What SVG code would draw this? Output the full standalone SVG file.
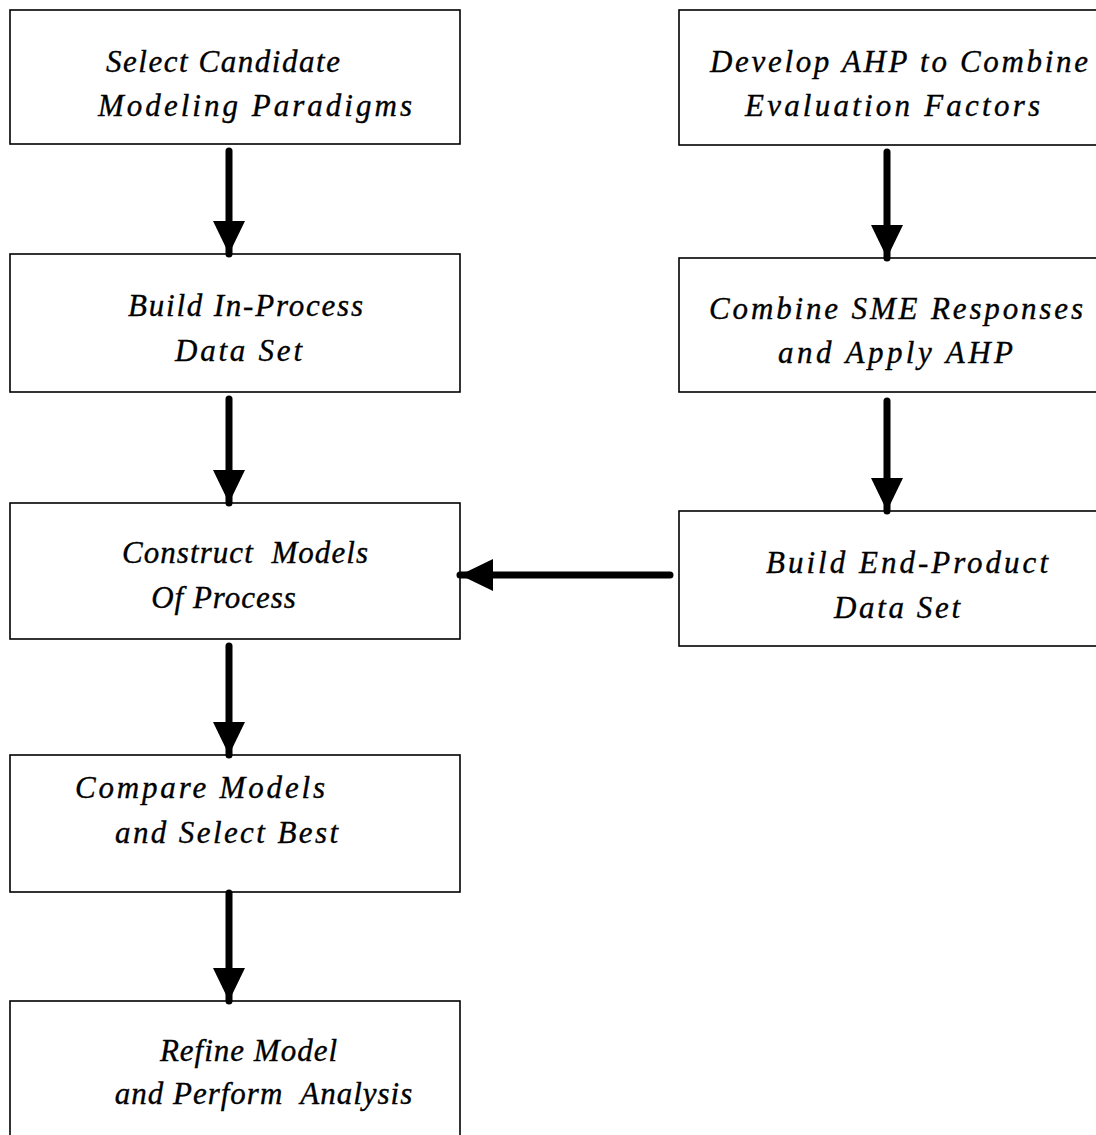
<svg xmlns="http://www.w3.org/2000/svg" width="1096" height="1135" viewBox="0 0 1096 1135">
  <style>
    .box { fill: #ffffff; stroke: #000000; stroke-width: 1.6; }
    .lbl { font-family: "Liberation Serif", "Times New Roman", serif; font-style: italic; font-size: 31px; fill: #000000; stroke: #000000; stroke-width: 0.35; white-space: pre; }
    .mid { text-anchor: middle; letter-spacing: 1px; }
    .conn { stroke: #000000; stroke-width: 7; stroke-linecap: round; fill: none; }
  </style>
  <defs>
    <marker id="head" markerUnits="userSpaceOnUse" markerWidth="34" markerHeight="34" refX="33" refY="16" orient="auto">
      <path d="M0,0 L33,16 L0,32 Z" fill="#000000"/>
    </marker>
  </defs>
  <rect width="1096" height="1135" fill="#ffffff"/>

  <!-- process steps, left column -->
  <g id="select-paradigms">
    <rect class="box" x="10" y="10" width="450" height="134"/>
    <text class="lbl" x="106" y="72" textLength="234" lengthAdjust="spacing">Select Candidate</text>
    <text class="lbl" x="98" y="116" textLength="314" lengthAdjust="spacing">Modeling Paradigms</text>
  </g>
  <g id="build-inprocess">
    <rect class="box" x="10" y="254" width="450" height="138"/>
    <text class="lbl" x="128" y="316" textLength="235" lengthAdjust="spacing">Build In-Process</text>
    <text class="lbl" x="175" y="361" textLength="127" lengthAdjust="spacing">Data Set</text>
  </g>
  <g id="construct-models">
    <rect class="box" x="10" y="503" width="450" height="136"/>
    <text class="lbl" x="122" y="563" textLength="246" lengthAdjust="spacing">Construct  Models</text>
    <text class="lbl mid" x="224" y="608">Of Process</text>
  </g>
  <g id="compare-models">
    <rect class="box" x="10" y="755" width="450" height="137"/>
    <text class="lbl" x="75" y="798" textLength="250" lengthAdjust="spacing">Compare Models</text>
    <text class="lbl" x="115" y="843" textLength="223" lengthAdjust="spacing">and Select Best</text>
  </g>
  <g id="refine-model">
    <rect class="box" x="10" y="1001" width="450" height="150"/>
    <text class="lbl mid" x="249" y="1061">Refine Model</text>
    <text class="lbl mid" x="264" y="1104">and Perform  Analysis</text>
  </g>

  <!-- process steps, right column -->
  <g id="develop-ahp">
    <rect class="box" x="679" y="10" width="430" height="135"/>
    <text class="lbl" x="710" y="72" textLength="378" lengthAdjust="spacing">Develop AHP to Combine</text>
    <text class="lbl" x="745" y="116" textLength="295" lengthAdjust="spacing">Evaluation Factors</text>
  </g>
  <g id="combine-sme">
    <rect class="box" x="679" y="258" width="430" height="134"/>
    <text class="lbl" x="709" y="319" textLength="374" lengthAdjust="spacing">Combine SME Responses</text>
    <text class="lbl" x="778" y="363" textLength="235" lengthAdjust="spacing">and Apply AHP</text>
  </g>
  <g id="build-endproduct">
    <rect class="box" x="679" y="511" width="430" height="135"/>
    <text class="lbl" x="766" y="573" textLength="282" lengthAdjust="spacing">Build End-Product</text>
    <text class="lbl" x="834" y="618" textLength="126" lengthAdjust="spacing">Data Set</text>
  </g>

  <!-- connectors -->
  <g id="connectors">
    <line class="conn" x1="229" y1="151" x2="229" y2="254" marker-end="url(#head)"/>
    <line class="conn" x1="229" y1="399" x2="229" y2="503" marker-end="url(#head)"/>
    <line class="conn" x1="229" y1="646" x2="229" y2="755" marker-end="url(#head)"/>
    <line class="conn" x1="229" y1="893" x2="229" y2="1001" marker-end="url(#head)"/>
    <line class="conn" x1="887" y1="152" x2="887" y2="258" marker-end="url(#head)"/>
    <line class="conn" x1="887" y1="401" x2="887" y2="511" marker-end="url(#head)"/>
    <line class="conn" x1="670" y1="575" x2="460" y2="575" marker-end="url(#head)"/>
  </g>
</svg>
